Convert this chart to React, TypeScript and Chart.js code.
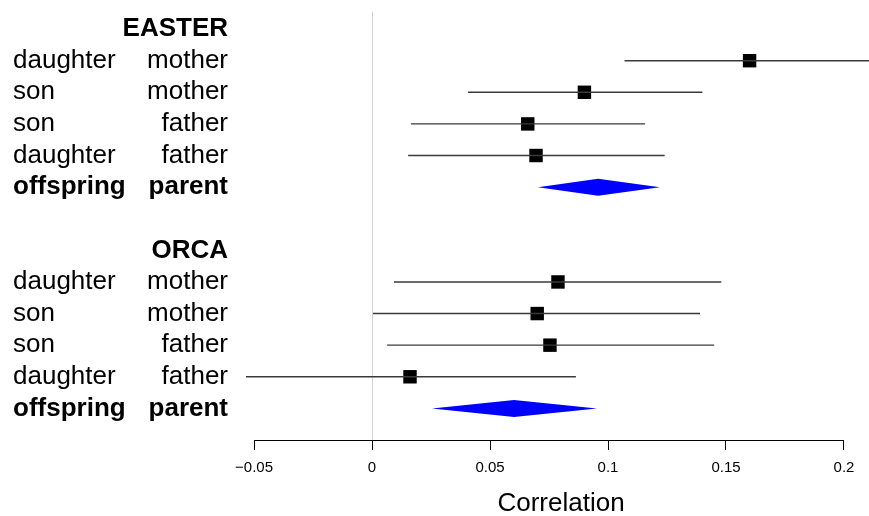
import { useEffect, useRef } from "react";
import { Chart, registerables } from "chart.js";

Chart.register(...registerables);

// Study groups and comparison labels
const studies = ["EASTER", "ORCA"];
const childLabels = ["daughter", "son", "son", "daughter"];
const parentLabels = ["mother", "mother", "father", "father"];
const pooledChild = "offspring";
const pooledParent = "parent";
const axisTitle = "Correlation";

// EASTER estimates with 95% CI
const easterEst = [0.16, 0.09, 0.066, 0.0695];
const easterLo = [0.107, 0.0407, 0.0165, 0.0153];
const easterHi = [0.213, 0.14, 0.1157, 0.124];
const easterPooled = [0.0703, 0.0958, 0.122]; // lower, estimate, upper

// ORCA estimates with 95% CI
const orcaEst = [0.0788, 0.07, 0.0754, 0.0161];
const orcaLo = [0.0093, 0.0004, 0.0064, -0.0534];
const orcaHi = [0.148, 0.139, 0.145, 0.0864];
const orcaPooled = [0.0254, 0.0602, 0.0953];

// Axis ticks
const tickValues = [-0.05, 0, 0.05, 0.1, 0.15, 0.2];
const tickLabels = ["\u22120.05", "0", "0.05", "0.1", "0.15", "0.2"];

// Row layout: header, four comparisons, pooled, gap
const groupStart = [0, 7];

type Row = { y: number; est: number; lo: number; hi: number };

function buildRows(start: number, est: number[], lo: number[], hi: number[]): Row[] {
  return est.map((e, i) => ({ y: start + 1 + i, est: e, lo: lo[i], hi: hi[i] }));
}

const rows: Row[] = [
  ...buildRows(groupStart[0], easterEst, easterLo, easterHi),
  ...buildRows(groupStart[1], orcaEst, orcaLo, orcaHi),
];

const pooled = [
  { y: groupStart[0] + 5, v: easterPooled },
  { y: groupStart[1] + 5, v: orcaPooled },
];

const FONT = '"Liberation Sans", Arial, Helvetica, sans-serif';

const forestPlugin = {
  id: "forestDecor",
  beforeDatasetsDraw(chart: any) {
    const { ctx, chartArea, scales } = chart;
    const x = scales.x;
    const y = scales.y;
    ctx.save();
    // reference line at zero
    const x0 = Math.round(x.getPixelForValue(0)) + 0.5;
    ctx.strokeStyle = "#d3d3d3";
    ctx.lineWidth = 1;
    ctx.beginPath();
    ctx.moveTo(x0, y.getPixelForValue(-0.54));
    ctx.lineTo(x0, chartArea.bottom);
    ctx.stroke();
    ctx.restore();
  },
  afterDatasetsDraw(chart: any) {
    const { ctx, chartArea, scales } = chart;
    const x = scales.x;
    const y = scales.y;
    ctx.save();

    // pooled-effect diamonds
    ctx.fillStyle = "#0000ff";
    pooled.forEach((p) => {
      const cy = y.getPixelForValue(p.y);
      const h = 8.5;
      ctx.beginPath();
      ctx.moveTo(x.getPixelForValue(p.v[0]), cy);
      ctx.lineTo(x.getPixelForValue(p.v[1]), cy - h);
      ctx.lineTo(x.getPixelForValue(p.v[2]), cy);
      ctx.lineTo(x.getPixelForValue(p.v[1]), cy + h);
      ctx.closePath();
      ctx.fill();
    });

    // axis line spanning the tick range
    const ay = Math.round(chartArea.bottom) + 0.5;
    ctx.strokeStyle = "#000";
    ctx.lineWidth = 1;
    ctx.beginPath();
    ctx.moveTo(x.getPixelForValue(tickValues[0]), ay);
    ctx.lineTo(x.getPixelForValue(tickValues[tickValues.length - 1]), ay);
    ctx.stroke();

    // axis title, centred under the tick range
    ctx.fillStyle = "#000";
    ctx.font = `26px ${FONT}`;
    ctx.textAlign = "center";
    ctx.textBaseline = "middle";
    const midX = (x.getPixelForValue(tickValues[0]) + x.getPixelForValue(tickValues[tickValues.length - 1])) / 2 + 12;
    ctx.fillText(axisTitle, midX, chartArea.bottom + 64);

    // row labels
    const leftX = 13;
    const rightX = 228;
    const regular = `26px ${FONT}`;
    const bold = `bold 26px ${FONT}`;
    studies.forEach((name, g) => {
      const start = groupStart[g];
      ctx.font = bold;
      ctx.textAlign = "right";
      ctx.fillText(name, rightX, y.getPixelForValue(start));
      ctx.font = regular;
      childLabels.forEach((c, i) => {
        const py = y.getPixelForValue(start + 1 + i);
        ctx.textAlign = "left";
        ctx.fillText(c, leftX, py);
        ctx.textAlign = "right";
        ctx.fillText(parentLabels[i], rightX, py);
      });
      ctx.font = bold;
      const py = y.getPixelForValue(start + 5);
      ctx.textAlign = "left";
      ctx.fillText(pooledChild, leftX, py);
      ctx.textAlign = "right";
      ctx.fillText(pooledParent, rightX, py);
    });
    ctx.restore();
  },
};

export default function App() {
  const canvasRef = useRef<HTMLCanvasElement | null>(null);

  useEffect(() => {
    document.body.style.margin = "0";
    const canvas = canvasRef.current;
    if (!canvas) return;

    const ciSets = rows.map((r) => ({
      type: "line" as const,
      data: [
        { x: r.lo, y: r.y },
        { x: r.hi, y: r.y },
      ],
      borderColor: "#3a3a3a",
      borderWidth: 1.4,
      pointRadius: 0,
      showLine: true,
      fill: false,
    }));

    const chart = new Chart(canvas, {
      type: "scatter",
      data: {
        datasets: [
          ...ciSets,
          {
            type: "scatter" as const,
            data: rows.map((r) => ({ x: r.est, y: r.y })),
            pointStyle: "rect",
            pointRadius: 9.5,
            pointBorderWidth: 0,
            backgroundColor: "#000",
            borderColor: "#000",
          },
        ] as any,
      },
      options: {
        responsive: false,
        animation: false,
        devicePixelRatio: 1,
        layout: { autoPadding: false, padding: { left: 246, right: 0, top: 0, bottom: 30 } },
        plugins: {
          legend: { display: false },
          tooltip: { enabled: false },
        },
        scales: {
          x: {
            type: "linear",
            min: -0.0534,
            max: 0.2106,
            position: "bottom",
            afterBuildTicks: (axis: any) => {
              axis.ticks = tickValues.map((v) => ({ value: v }));
            },
            border: { display: false },
            grid: {
              drawOnChartArea: false,
              drawTicks: true,
              tickLength: 10,
              color: "#000",
              lineWidth: 1,
            },
            ticks: {
              autoSkip: false,
              maxRotation: 0,
              padding: 9,
              color: "#000",
              font: { family: FONT, size: 15 },
              callback: (value: any) => {
                const i = tickValues.findIndex((t) => Math.abs(t - Number(value)) < 1e-9);
                return i >= 0 ? tickLabels[i] : "";
              },
            },
            title: { display: false },
          },
          y: {
            type: "linear",
            display: false,
            reverse: true,
            min: -0.92,
            max: 13,
          },
        },
      },
      plugins: [forestPlugin],
    });

    return () => chart.destroy();
  }, []);

  return (
    <div style={{ position: "absolute", left: 0, top: 0, width: 869, height: 516 }}>
      <canvas ref={canvasRef} width={869} height={516} />
    </div>
  );
}
